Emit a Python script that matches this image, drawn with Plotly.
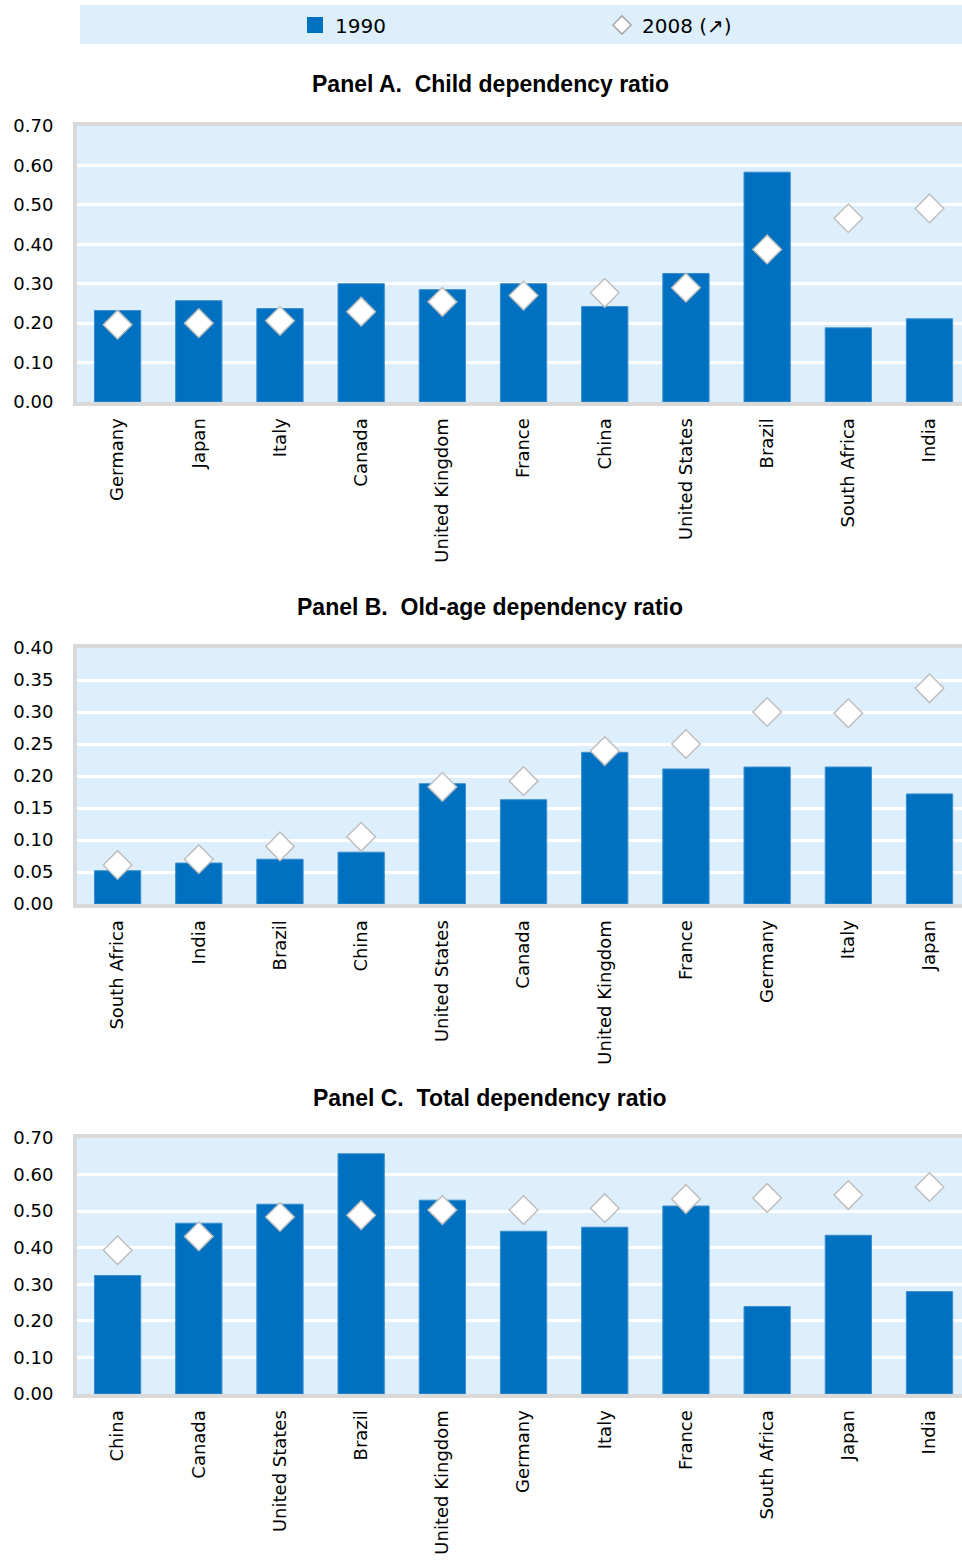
import plotly.graph_objects as go

# Panel A: Child dependency ratio
cats_a = ["Germany", "Japan", "Italy", "Canada", "United Kingdom", "France", "China",
          "United States", "Brazil", "South Africa", "India"]
a_1990 = [0.232, 0.257, 0.237, 0.300, 0.285, 0.300, 0.242, 0.326, 0.583, 0.188, 0.211]
a_2008 = [0.196, 0.200, 0.206, 0.229, 0.254, 0.270, 0.277, 0.290, 0.387, 0.466, 0.491]

# Panel B: Old-age dependency ratio
cats_b = ["South Africa", "India", "Brazil", "China", "United States", "Canada",
          "United Kingdom", "France", "Germany", "Italy", "Japan"]
b_1990 = [0.052, 0.064, 0.070, 0.081, 0.188, 0.163, 0.237, 0.211, 0.214, 0.214, 0.172]
b_2008 = [0.061, 0.070, 0.090, 0.105, 0.183, 0.192, 0.239, 0.250, 0.300, 0.298, 0.337]

# Panel C: Total dependency ratio
cats_c = ["China", "Canada", "United States", "Brazil", "United Kingdom", "Germany",
          "Italy", "France", "South Africa", "Japan", "India"]
c_1990 = [0.324, 0.467, 0.519, 0.657, 0.530, 0.445, 0.456, 0.514, 0.239, 0.434, 0.280]
c_2008 = [0.393, 0.431, 0.484, 0.489, 0.503, 0.503, 0.508, 0.533, 0.536, 0.544, 0.566]

titles = ["Panel A.  Child dependency ratio", "Panel B.  Old-age dependency ratio",
          "Panel C.  Total dependency ratio"]
series_names = ["1990", "2008 (\u2197)"]

W, H = 962, 1561
BAR = "#0070C0"
BG = "#DDEFFC"
GRAY = "#D9D9D9"
TICKFONT = dict(family="DejaVu Sans", size=18, color="#000")

def py(px):
    return 1 - px / H

panels = [
    (cats_a, a_1990, a_2008, (126, 402), 0.70, 0.10, 84),
    (cats_b, b_1990, b_2008, (648, 904), 0.40, 0.05, 607),
    (cats_c, c_1990, c_2008, (1138, 1394), 0.70, 0.10, 1098),
]

fig = go.Figure()
layout = dict(
    width=W, height=H,
    margin=dict(l=0, r=0, t=0, b=0, autoexpand=False),
    paper_bgcolor="white",
    plot_bgcolor=BG,
    showlegend=True,
    bargap=0.43,
    font=dict(family="DejaVu Sans", size=18, color="#000000"),
)
annotations = []
for i, (cats, v90, v08, (top, bot), ymax, dt, ty) in enumerate(panels):
    n = "" if i == 0 else str(i + 1)
    fig.add_trace(go.Bar(
        x=cats, y=v90, name=series_names[0],
        marker=dict(color=BAR, line=dict(color="#3A8FD0", width=1)),
        xaxis="x" + n, yaxis="y" + n, showlegend=False,
    ))
    fig.add_trace(go.Scatter(
        x=cats, y=v08, name=series_names[1], mode="markers",
        marker=dict(symbol="diamond", size=22, color="white",
                    line=dict(color="#BFBFBF", width=1.5)),
        xaxis="x" + n, yaxis="y" + n, showlegend=False,
    ))
    layout["xaxis" + n] = dict(
        domain=[77 / W, 1], anchor="y" + n, type="category",
        range=[-0.5, 10.4],
        tickangle=-90, showline=True, linecolor=GRAY, linewidth=4, mirror=True,
        ticks="", ticklabelstandoff=5, showgrid=False, tickfont=TICKFONT,
    )
    layout["yaxis" + n] = dict(
        domain=[py(bot), py(top)], anchor="x" + n, range=[0, ymax], dtick=dt,
        tickformat=".2f", showgrid=True, gridcolor="white", gridwidth=3,
        showline=True, linecolor=GRAY, linewidth=4, zeroline=False,
        ticks="", ticklabelstandoff=16, tickfont=TICKFONT,
    )
    annotations.append(dict(
        text="<b>" + titles[i] + "</b>", x=490 / W, y=py(ty), xref="paper", yref="paper",
        xanchor="center", yanchor="middle", showarrow=False,
        font=dict(family="Liberation Sans", size=23, color="#000"),
    ))

# legend entries (same styling as the traces above)
fig.add_trace(go.Scatter(
    x=[None], y=[None], name=series_names[0], mode="markers",
    marker=dict(symbol="square", size=18, color=BAR), showlegend=True,
))
fig.add_trace(go.Scatter(
    x=[None], y=[None], name=series_names[1], mode="markers",
    marker=dict(symbol="diamond", size=14, color="white",
                line=dict(color="#A6A6A6", width=1.5)), showlegend=True,
))

layout["annotations"] = annotations
layout["shapes"] = [dict(type="rect", xref="paper", yref="paper",
                         x0=80 / W, x1=1, y0=py(44), y1=py(5),
                         fillcolor=BG, line=dict(width=0), layer="below")]
layout["legend"] = dict(
    orientation="h", x=295 / W, y=py(25), xanchor="left", yanchor="middle",
    bgcolor="rgba(0,0,0,0)", entrywidth=262, entrywidthmode="pixels",
    itemwidth=30, font=dict(family="DejaVu Sans", size=20, color="#000"),
    traceorder="normal",
)
fig.update_layout(**layout)
fig.write_html("out.html")
